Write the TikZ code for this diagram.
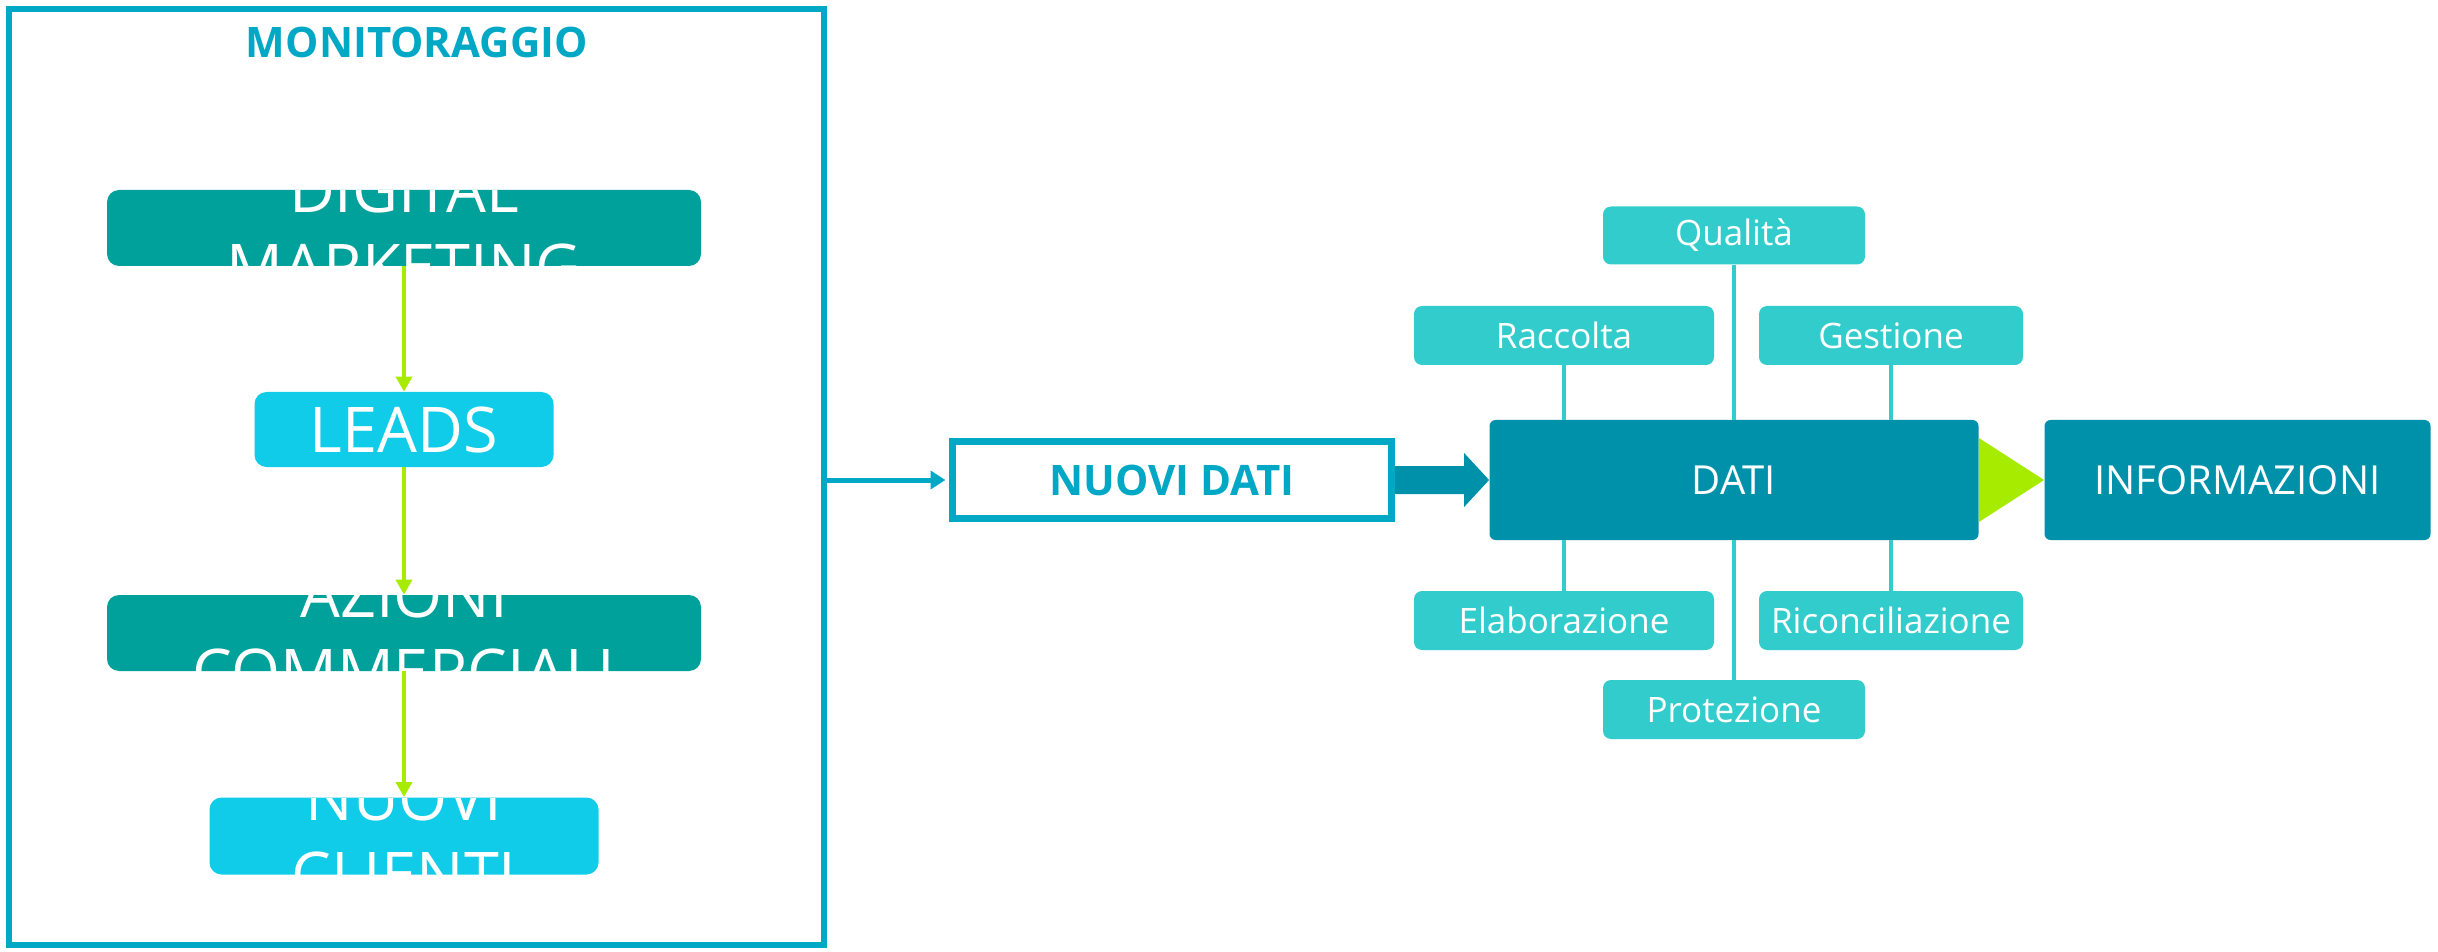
\documentclass[tikz,border=0pt]{standalone}
\usepackage{fontspec}
\setmainfont{Open Sans}
\usetikzlibrary{arrows.meta}
\definecolor{monblue}{HTML}{00A8C6}
\definecolor{datiblue}{HTML}{0091AA}
\definecolor{tealbox}{HTML}{00A19A}
\definecolor{cyanbox}{HTML}{10CCE8}
\definecolor{turq}{HTML}{33CCCC}
\definecolor{limegreen}{HTML}{A6EB00}
\begin{document}
\begin{tikzpicture}[x=0.5pt,y=-0.5pt,
  flowbox/.style={rectangle, rounded corners=6pt, inner sep=0pt, draw=none},
  cliptext/.style={path picture={\node[font=\fontsize{31.5}{38.5}\selectfont, text=white, align=center, inner sep=0pt] at (path picture bounding box.center) {#1};}},
  smallbox/.style={rectangle, rounded corners=4pt, fill=turq, inner sep=0pt, text=white, font=\fontsize{17.5}{21}\selectfont},
  bigbox/.style={rectangle, rounded corners=3pt, fill=datiblue, inner sep=0pt, text=white, font=\fontsize{20}{24}\selectfont, minimum height=60pt},
  garrow/.style={draw=limegreen, line width=2pt, -{Triangle[length=7.5pt,width=8pt]}},
  spoke/.style={draw=turq, line width=2pt}
]
\useasboundingbox (0,0) rectangle (2438,952);

% monitoring frame
\node[draw=monblue, line width=3pt, minimum width=407.5pt, minimum height=468pt, inner sep=0pt] (mon) at (416.5,477) {};
\node[text=monblue, font=\bfseries\fontsize{21}{25}\selectfont] (title) at (417,42) {MONITORAGGIO};

% flow boxes
\node[flowbox, fill=tealbox, minimum width=297pt, minimum height=38pt, cliptext={DIGITAL\\MARKETING}] (dm) at (404,228) {};
\node[flowbox, fill=cyanbox, minimum width=149.5pt, minimum height=37.5pt, cliptext={LEADS}] (leads) at (404,429.5) {};
\node[flowbox, fill=tealbox, minimum width=297pt, minimum height=38pt, cliptext={AZIONI\\COMMERCIALI}] (az) at (404,633) {};
\node[flowbox, fill=cyanbox, minimum width=194.5pt, minimum height=38.5pt, cliptext={NUOVI\\CLIENTI}] (nc) at (404,836) {};

\draw[garrow] (dm.south) -- (leads.north);
\draw[garrow] (leads.south) -- (az.north);
\draw[garrow] (az.south) -- (nc.north);

% nuovi dati
\node[draw=monblue, line width=3.5pt, minimum width=219.5pt, minimum height=38.5pt, inner sep=0pt, text=monblue, font=\bfseries\fontsize{21}{25}\selectfont] (nd) at (1172,480) {NUOVI DATI};
\coordinate (ndin) at ([xshift=-1.75pt]nd.west);
\draw[draw=monblue, line width=2.5pt, -{Triangle[length=7.5pt,width=9pt]}] (mon.east |- ndin) -- (ndin);

% dati and informazioni
\node[bigbox, minimum width=244.5pt] (dati) at (1734,480) {DATI};
\node[bigbox, minimum width=193pt] (info) at (2237.5,480) {INFORMAZIONI};
\fill[limegreen] ([yshift=21pt]dati.east) -- (info.west) -- ([yshift=-21pt]dati.east) -- cycle;
\fill[datiblue] ([yshift=7pt]nd.east) -- ([xshift=-12.5pt,yshift=7pt]dati.west)
  -- ([xshift=-12.5pt,yshift=13.5pt]dati.west) -- (dati.west)
  -- ([xshift=-12.5pt,yshift=-13.5pt]dati.west) -- ([xshift=-12.5pt,yshift=-7pt]dati.west)
  -- ([yshift=-7pt]nd.east) -- cycle;

% small boxes
\node[smallbox, minimum width=131pt, minimum height=29pt] (qual) at (1734,235.5) {Qualità};
\node[smallbox, minimum width=150pt, minimum height=29.5pt] (racc) at (1564,335.5) {Raccolta};
\node[smallbox, minimum width=132pt, minimum height=29.5pt] (gest) at (1891,335.5) {Gestione};
\node[smallbox, minimum width=150pt, minimum height=29.5pt] (elab) at (1564,620.5) {Elaborazione};
\node[smallbox, minimum width=132pt, minimum height=29.5pt] (ric) at (1891,620.5) {Riconciliazione};
\node[smallbox, minimum width=131pt, minimum height=29.5pt] (prot) at (1734,709.5) {Protezione};

\draw[spoke] (qual.south) -- (qual.south |- dati.north);
\draw[spoke] (racc.south) -- (racc.south |- dati.north);
\draw[spoke] (gest.south) -- (gest.south |- dati.north);
\draw[spoke] (elab.north) -- (elab.north |- dati.south);
\draw[spoke] (ric.north) -- (ric.north |- dati.south);
\draw[spoke] (prot.north) -- (prot.north |- dati.south);
\end{tikzpicture}
\end{document}
